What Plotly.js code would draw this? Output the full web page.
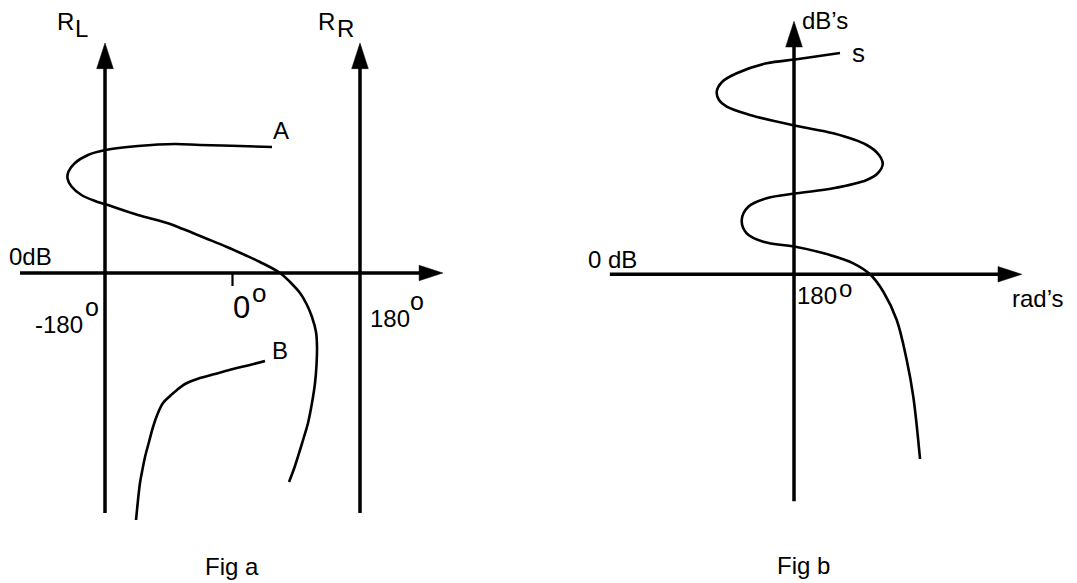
<!DOCTYPE html>
<html>
<head>
<meta charset="utf-8">
<script src="https://cdn.plot.ly/plotly-3.0.1.min.js"></script>
<style>html,body{margin:0;padding:0;background:#fff;}#chart{width:1077px;height:583px;}</style>
</head>
<body>
<div id="chart"></div>
<script>
// ---------- Fig a: phase (degrees) vs level (dB) ----------
const phaseMarksA = [-180, 0, 180];            // R_L axis, 0° tick, R_R axis
const phaseSpanA = [-300, 297];                // horizontal 0 dB axis extent
const levelSpanA = [-24, 23];                  // vertical R_L / R_R axis extent
const tickDepthA = [0, -1.3];

const curveA_phase = [55.8,10.6,-45.9,-81.2,-133.4,-179.4,-204.0,-222.4,-231.5,-232.9,-227.3,-213.2,-194.1,-179.4,-133.4,-91.1,-69.9,-38.8,-7.8,17.6,38.8,67.1,81.2,95.3,105.2,112.2,117.9,119.3,118.6,116.5,112.2,106.6,100.9,95.3,88.2,79.8];
const curveA_dB    = [12.6,12.7,12.8,12.9,12.7,12.3,11.8,11.0,10.15,9.45,8.65,7.8,7.2,6.87,5.8,4.97,4.4,3.5,2.6,1.8,1.1,0,-0.9,-2.0,-3.2,-4.4,-5.9,-7.4,-9.2,-11.0,-13.0,-15.0,-16.4,-17.7,-19.3,-20.9];

const curveB_phase = [45.9,24.7,0.7,-24.7,-45.9,-67.1,-78.4,-88.2,-98.1,-105.2,-112.2,-117.9,-123.5,-127.8,-130.6,-133.4,-136.2];
const curveB_dB    = [-8.8,-9.2,-9.6,-10.1,-10.5,-11.1,-11.7,-12.3,-13.0,-14.0,-15.4,-16.9,-18.4,-19.9,-21.0,-22.7,-24.7];

// ---------- Fig b ----------
const phaseMarkB = 180;
const phaseSpanB = [-80, 501.5];
const levelSpanB = [-22.7, 25.3];

const curveS_phase = [244.9,183.8,141.5,99.1,78.4,70.9,74.1,85.0,117.9,183.8,235.5,282.6,300.0,305.2,298.6,282.6,235.5,183.8,141.5,115.5,106.2,113.2,136.7,183.8,230.8,263.7,287.3,306.1,325.0,339.1,348.4,357.9];
const curveS_dB    = [22.13,21.5,21.1,20.1,19.23,18.26,17.43,16.76,15.93,14.83,14.1,12.93,11.93,11.03,10.13,9.43,8.6,8.1,7.6,6.76,5.43,4.1,3.26,2.73,1.93,1.1,0,-1.74,-4.57,-8.57,-12.24,-18.47];

const FONT = '"Liberation Sans", Arial, Helvetica, sans-serif';
const BLACK = '#000';

function axisArrow(xs, ys, xa, ya, head) {
  return {
    x: xs, y: ys, xaxis: xa, yaxis: ya, type: 'scatter', mode: 'lines+markers',
    line: {color: BLACK, width: 3.5, backoff: 'auto'},
    marker: {symbol: 'arrow', angleref: 'previous', size: [0, head], color: BLACK, opacity: 1, line: {width: 0.5, color: BLACK}},
    hoverinfo: 'skip'
  };
}
function plainLine(xs, ys, xa, ya, w) {
  return {x: xs, y: ys, xaxis: xa, yaxis: ya, type: 'scatter', mode: 'lines',
    line: {color: BLACK, width: w}, hoverinfo: 'skip'};
}
function curve(xs, ys, xa, ya) {
  return {x: xs, y: ys, xaxis: xa, yaxis: ya, type: 'scatter', mode: 'lines',
    line: {color: BLACK, width: 2.6, shape: 'spline', smoothing: 1}, hoverinfo: 'skip'};
}

const traces = [
  axisArrow(phaseSpanA, [0, 0], 'x', 'y', 25),
  axisArrow([phaseMarksA[0], phaseMarksA[0]], levelSpanA, 'x', 'y', 27),
  axisArrow([phaseMarksA[2], phaseMarksA[2]], levelSpanA, 'x', 'y', 27),
  plainLine([phaseMarksA[1], phaseMarksA[1]], tickDepthA, 'x', 'y', 2.2),
  curve(curveA_phase, curveA_dB, 'x', 'y'),
  curve(curveB_phase, curveB_dB, 'x', 'y'),
  axisArrow(phaseSpanB, [0, 0], 'x2', 'y2', 25),
  axisArrow([phaseMarkB, phaseMarkB], levelSpanB, 'x2', 'y2', 27),
  curve(curveS_phase, curveS_dB, 'x2', 'y2')
];

function lab(text, xr, yr, x, y, size) {
  return {text: text, xref: xr, yref: yr, x: x, y: y, xanchor: 'left', yanchor: 'middle',
    showarrow: false, font: {family: FONT, size: size || 24, color: BLACK}};
}

const annotations = [
  lab('R', 'x', 'y', -251.3, 25.17),
  lab('L', 'x', 'y', -225.2, 24.47),
  lab('R', 'x', 'y', 118.3, 25.17),
  lab('R', 'x', 'y', 144.3, 24.47),
  lab('A', 'x', 'y', 53.9, 14.27),
  lab('B', 'x', 'y', 52.5, -7.78),
  lab('0dB', 'x', 'y', -317.9, 1.63),
  lab('-180', 'x', 'y', -281.6, -5.12),
  lab('o', 'x', 'y', -210.4, -3.42, 25),
  lab('0', 'x', 'y', -2.1, -3.42, 31),
  lab('o', 'x', 'y', 24.7, -2.03, 26),
  lab('180', 'x', 'y', 191.3, -4.5),
  lab('o', 'x', 'y', 247.1, -2.83, 25),
  lab('Fig a', 'x', 'y', -41.6, -29.37),
  lab('dB\u2019s', 'x2', 'y2', 188.0, 25.43),
  lab('s', 'x2', 'y2', 259.1, 22.15, 26),
  lab('0 dB', 'x2', 'y2', -113.6, 1.51),
  lab('180', 'x2', 'y2', 181.4, -2.16),
  lab('o', 'x2', 'y2', 240, -1.37, 24),
  lab('rad\u2019s', 'x2', 'y2', 484.9, -2.41),
  lab('Fig b', 'x2', 'y2', 152.8, -29.11)
];

const hidden = {visible: false, showgrid: false, zeroline: false, fixedrange: true};
const layout = {
  width: 1077, height: 583,
  margin: {l: 0, r: 0, t: 0, b: 0, pad: 0},
  paper_bgcolor: '#fff', plot_bgcolor: '#fff',
  showlegend: false,
  font: {family: FONT, color: BLACK},
  xaxis: Object.assign({domain: [0, 0.5], range: [-328.24, 432.0], anchor: 'y'}, hidden),
  yaxis: Object.assign({domain: [0, 1], range: [-31, 27.3], anchor: 'x'}, hidden),
  xaxis2: Object.assign({domain: [0.5, 1], range: [-180.7, 579.5], anchor: 'y2'}, hidden),
  yaxis2: Object.assign({domain: [0, 1], range: [-30.87, 27.43], anchor: 'x2'}, hidden),
  annotations: annotations
};

Plotly.newPlot('chart', traces, layout, {staticPlot: true, displayModeBar: false});
</script>
</body>
</html>
